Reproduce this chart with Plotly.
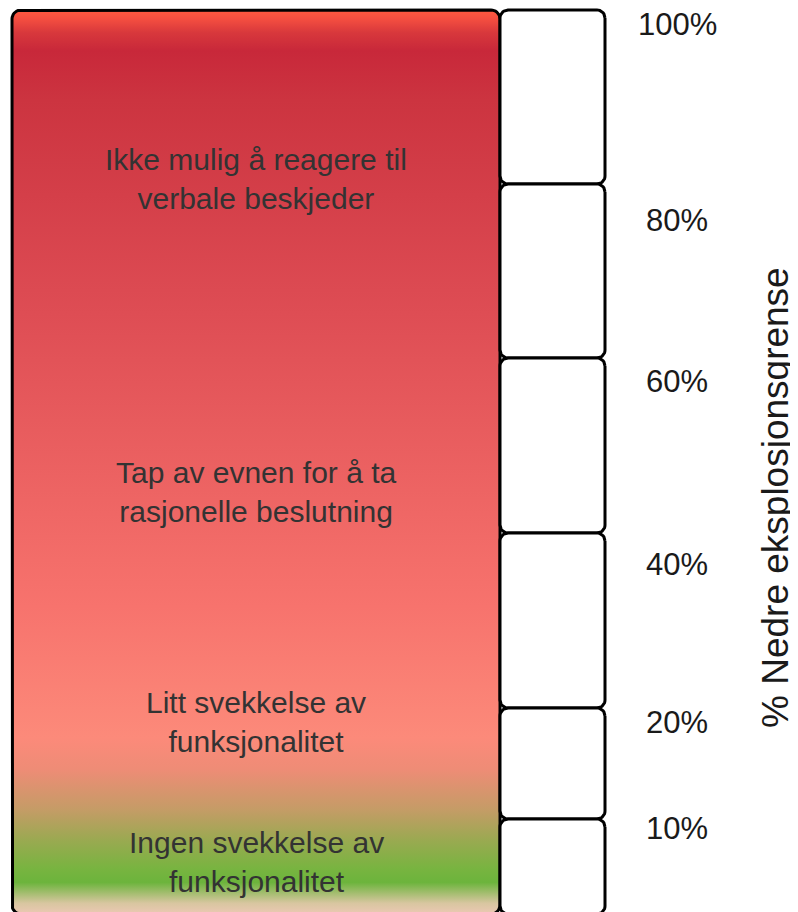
import numpy as np
import plotly.graph_objects as go

# ---- data ----
levels = [100, 80, 60, 40, 20, 10, 0]
tick_labels = ["100%", "80%", "60%", "40%", "20%", "10%"]
zones = [
    "Ikke mulig å reagere til<br>verbale beskjeder",
    "Tap av evnen for å ta<br>rasjonelle beslutning",
    "Litt svekkelse av<br>funksjonalitet",
    "Ingen svekkelse av<br>funksjonalitet",
]
axis_title = "% Nedre eksplosjonsgrense"

# ---- layout config (visual band heights in px, top band first) ----
band_px = [174, 174, 175, 175, 111, 95]
tick_shift = [-14, -36, -23, -31, -14, -9]
zone_center_from_top = [179, 492, 722, 862]
PAGE_OFF = 8            # default body margin of the html page
W, H = 798 - PAGE_OFF, 912 - PAGE_OFF
TOP = 10
total = sum(band_px)
u_top_page = total + TOP  # u value at page pixel row 0

# cumulative boundaries (u: 0 at bottom level)
bounds = [total]
for b in band_px:
    bounds.append(bounds[-1] - b)  # bounds[i] corresponds to levels[i]


def rounded_rect(x0, x1, y0, y1, r, n=10):
    corners = [
        (x1 - r, y1 - r, 0, np.pi / 2),
        (x0 + r, y1 - r, np.pi / 2, np.pi),
        (x0 + r, y0 + r, np.pi, 1.5 * np.pi),
        (x1 - r, y0 + r, 1.5 * np.pi, 2 * np.pi),
    ]
    xs, ys = [], []
    for cx, cy, a0, a1 in corners:
        t = np.linspace(a0, a1, n)
        xs.extend(cx + r * np.cos(t))
        ys.extend(cy + r * np.sin(t))
    xs.append(xs[0])
    ys.append(ys[0])
    return xs, ys


fig = go.Figure()

RX0, RX1 = 12, 500
BX0, BX1 = 500, 605

colorscale = [
    [0.0, "#ecc8b4"],
    [0.012, "#d8c6a0"],
    [0.035, "#6cb43c"],
    [0.05, "#78b440"],
    [0.08, "#98aa50"],
    [0.115, "#c49c66"],
    [0.16, "#ee8c76"],
    [0.195, "#fc8a7a"],
    [0.34, "#f7736d"],
    [0.69, "#dc4a52"],
    [0.90, "#cc3440"],
    [0.955, "#c8283a"],
    [0.975, "#d8383c"],
    [0.99, "#f44e40"],
    [1.0, "#ff5a40"],
]

xs, ys = rounded_rect(RX0, RX1, bounds[-1], bounds[0], 9)
fig.add_trace(go.Scatter(
    x=xs, y=ys, mode="lines", fill="toself",
    fillgradient=dict(type="vertical", colorscale=colorscale,
                      start=bounds[-1], stop=bounds[0]),
    line=dict(color="black", width=3),
    hoverinfo="skip", showlegend=False,
))

# white level boxes
for i in range(len(band_px)):
    bx, by = rounded_rect(BX0, BX1, bounds[i + 1], bounds[i], 8)
    fig.add_trace(go.Scatter(
        x=bx, y=by, mode="lines", fill="toself", fillcolor="white",
        line=dict(color="black", width=3),
        hoverinfo="skip", showlegend=False,
    ))

annotations = []
for lab, b, s in zip(tick_labels, bounds[:-1], tick_shift):
    annotations.append(dict(
        x=677, y=b, xref="x", yref="y", text=lab, showarrow=False,
        yshift=s, xanchor="center", yanchor="middle",
        font=dict(family="Liberation Sans, Arial", size=31, color="#1a1a1a"),
    ))

for z, c in zip(zones, zone_center_from_top):
    annotations.append(dict(
        x=(RX0 + RX1) / 2, y=u_top_page - c, xref="x", yref="y", text=z,
        showarrow=False, xanchor="center", yanchor="middle",
        font=dict(family="Liberation Sans, Arial", size=30, color="#333333"),
    ))

annotations.append(dict(
    x=775, y=u_top_page - 498, xref="x", yref="y", text=axis_title,
    showarrow=False, textangle=-90, xanchor="center", yanchor="middle",
    font=dict(family="Liberation Sans, Arial", size=37, color="#1a1a1a"),
))

fig.update_layout(
    width=W, height=H,
    margin=dict(l=0, r=0, t=0, b=0),
    paper_bgcolor="white", plot_bgcolor="white",
    xaxis=dict(range=[PAGE_OFF, PAGE_OFF + W], visible=False, fixedrange=True),
    yaxis=dict(range=[u_top_page - PAGE_OFF - H, u_top_page - PAGE_OFF],
               visible=False, fixedrange=True),
    annotations=annotations,
)

fig.write_html("out.html")
